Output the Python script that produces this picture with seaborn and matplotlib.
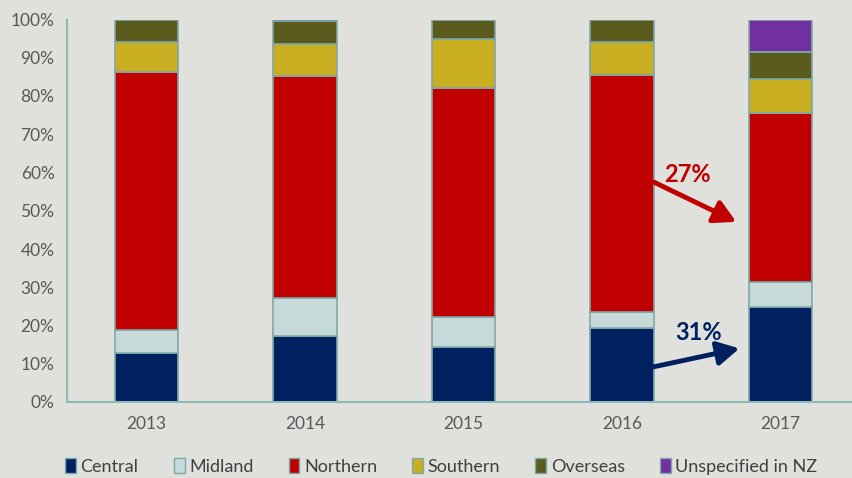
import numpy as np
import matplotlib
matplotlib.use("Agg")
import matplotlib.pyplot as plt
from matplotlib.patches import Patch
from matplotlib.ticker import PercentFormatter
import seaborn as sns

# ─── данные (доли, %) ────────────────────────────────────────────────────────
years = ["2013", "2014", "2015", "2016", "2017"]
series = ["Central", "Midland", "Northern", "Southern", "Overseas", "Unspecified in NZ"]
central = [12.9, 17.3, 14.5, 19.3, 24.9]
midland = [5.9, 10.0, 7.8, 4.3, 6.6]
northern = [67.5, 57.9, 59.8, 61.9, 44.1]
southern = [7.7, 8.5, 12.9, 8.6, 8.8]
overseas = [6.0, 5.8, 5.0, 5.9, 7.1]
unspecified = [0.0, 0.5, 0.0, 0.0, 8.5]

colors = ["#002060", "#c6dada", "#c00000", "#c9ae22", "#5b5b1e", "#7030a0"]
BG = "#e0e1dc"
EDGE = "#7fa9a8"

sns.set_theme(style="white")
plt.rcParams["font.family"] = ["Lato", "DejaVu Sans"]

fig = plt.figure(figsize=(8.52, 4.78), dpi=100, facecolor=BG)
ax = fig.add_axes([67 / 852, 1 - 402 / 478, 1 - 67 / 852, 382.5 / 478])
ax.set_facecolor(BG)

bottom = np.zeros(len(years))
for name, vals, c in zip(series,
                         [central, midland, northern, southern, overseas, unspecified],
                         colors):
    vals = np.array(vals)
    sns.barplot(x=years, y=vals, bottom=bottom, color=c, width=0.4,
                edgecolor=EDGE, linewidth=1.2, saturation=1, ax=ax)
    bottom = bottom + vals

ax.set_xlim(-0.5, 4.45)
ax.set_ylim(0, 100)
ax.set_yticks(np.arange(0, 101, 10))
ax.yaxis.set_major_formatter(PercentFormatter(decimals=0))
ax.tick_params(axis="both", length=0, labelsize=12.5, colors="#595959")
ax.tick_params(axis="x", pad=10)
ax.tick_params(axis="y", pad=9)
for s in ["top", "right"]:
    ax.spines[s].set_visible(False)
for s in ["left", "bottom"]:
    ax.spines[s].set_color("#8fb8b6")
    ax.spines[s].set_linewidth(1.5)
ax.set_xlabel("")
ax.set_ylabel("")

# стрелки-аннотации
arrow = "-|>,head_length=1.1,head_width=0.6"
ax.annotate("", xy=(3.72, 47.1), xytext=(3.2, 57.5),
            arrowprops=dict(arrowstyle=arrow, color="#c00000", lw=3.5,
                            shrinkA=0, shrinkB=0))
ax.text(3.41, 59.6, "27%", color="#c00000", fontsize=17, fontweight="bold",
        ha="center", va="center")
ax.annotate("", xy=(3.74, 14.0), xytext=(3.2, 9.2),
            arrowprops=dict(arrowstyle=arrow, color="#002060", lw=3.5,
                            shrinkA=0, shrinkB=0))
ax.text(3.48, 18.3, "31%", color="#002060", fontsize=17, fontweight="bold",
        ha="center", va="center")

handles = [Patch(facecolor=c, edgecolor=EDGE, label=n) for n, c in zip(series, colors)]
fig.legend(handles=handles, loc="center", bbox_to_anchor=(0.518, 0.024), ncol=6,
           frameon=False, fontsize=13, handlelength=0.6, handleheight=0.9,
           handletextpad=0.25, columnspacing=1.95, labelcolor="#404040")

fig.savefig("out.png", dpi=100, facecolor=BG)
